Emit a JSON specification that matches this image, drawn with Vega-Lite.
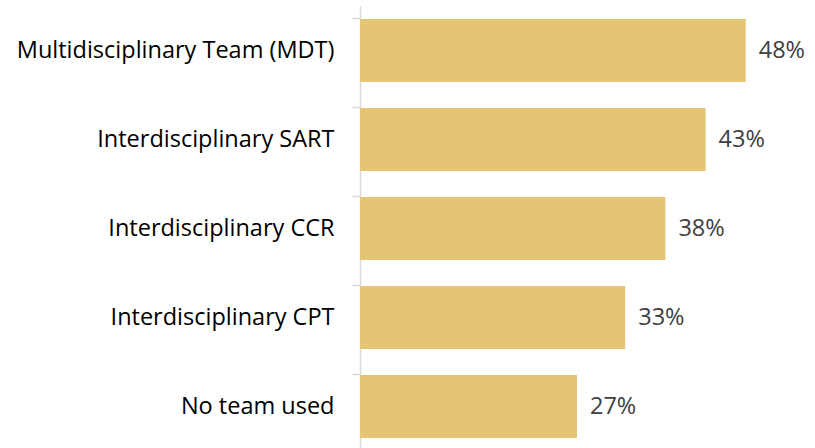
{
  "$schema": "https://vega.github.io/schema/vega-lite/v6.json",
  "autosize": "none",
  "width": 442,
  "height": 445,
  "padding": {"left": 360, "top": 6, "right": 13, "bottom": 0},
  "background": "white",
  "config": {"view": {"stroke": null}},
  "data": {"values": [
    {"team": "Multidisciplinary Team (MDT)", "pct": 0.48},
    {"team": "Interdisciplinary SART", "pct": 0.43},
    {"team": "Interdisciplinary CCR", "pct": 0.38},
    {"team": "Interdisciplinary CPT", "pct": 0.33},
    {"team": "No team used", "pct": 0.27}
  ]},
  "encoding": {
    "y": {"field": "team", "type": "nominal", "sort": null,
      "scale": {"paddingInner": 0.29, "paddingOuter": 0.145},
      "axis": {"title": null, "bandPosition": 0, "domainColor": "#d9d9d9", "domainWidth": 1.5,
        "tickColor": "#d9d9d9", "tickWidth": 1.5, "tickSize": 8, "labelPadding": 18,
        "labelFont": "Open Sans", "labelFontSize": 23.5, "labelColor": "#000000", "labelLimit": 400}},
    "x": {"field": "pct", "type": "quantitative", "scale": {"domain": [0, 0.55]}, "axis": null}
  },
  "layer": [
    {"mark": {"type": "bar", "color": "#E5C574"}},
    {"mark": {"type": "text", "align": "left", "dx": 13, "font": "Open Sans", "fontSize": 23.5, "color": "#404040"},
     "encoding": {"text": {"field": "pct", "type": "quantitative", "format": ".0%"}}}
  ]
}
